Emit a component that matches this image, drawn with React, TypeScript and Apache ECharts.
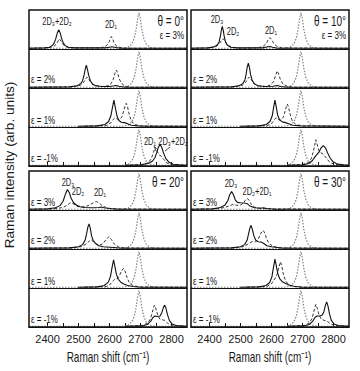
import React, { useEffect, useRef } from "react";
import * as echarts from "echarts";

// ---------- axis / labels ----------
const X_MIN = 2340;
const X_MAX = 2850;
const Y_MAX = 1.07;
const tickValues = [2400, 2450, 2500, 2550, 2600, 2650, 2700, 2750, 2800];
const tickLabels = [2400, 2500, 2600, 2700, 2800];
const strainLabels = ["ε = 3%", "ε = 2%", "ε = 1%", "ε = -1%"];
const thetaLabels = ["θ = 0°", "θ = 10°", "θ = 20°", "θ = 30°"];

// ---------- reference (unstrained) dotted peak ----------
const refDotted = [[2340,.02],[2640,.02],[2660,.05],[2672,.14],[2680,.3],[2686,.55],[2691,.85],[2695,1.0],[2699,.85],[2704,.55],[2710,.3],[2718,.14],[2730,.05],[2750,.02],[2850,.02]];

// ---------- theta = 0 ----------
const th0_e3_solid = [[2340,.02],[2390,.03],[2406,.05],[2416,.1],[2421,.16],[2426,.27],[2431,.43],[2436,.53],[2441,.43],[2446,.27],[2451,.16],[2456,.1],[2466,.05],[2490,.03],[2585,.03],[2600,.05],[2608,.06],[2616,.05],[2635,.02],[2850,.02]];
const th0_e3_dashed = [[2340,.02],[2400,.03],[2420,.07],[2429,.14],[2434,.22],[2438,.28],[2443,.22],[2448,.14],[2457,.07],[2475,.03],[2570,.03],[2585,.06],[2592,.11],[2599,.2],[2603,.3],[2606,.34],[2610,.28],[2614,.18],[2620,.1],[2630,.05],[2650,.02],[2850,.02]];
const th0_e2_solid = [[2340,.02],[2470,.03],[2495,.06],[2507,.12],[2513,.2],[2518,.36],[2521,.5],[2525,.63],[2529,.5],[2533,.34],[2538,.2],[2545,.11],[2555,.06],[2575,.04],[2600,.04],[2615,.06],[2622,.07],[2630,.05],[2650,.02],[2850,.02]];
const th0_e2_dashed = [[2340,.02],[2480,.03],[2505,.07],[2516,.15],[2523,.25],[2528,.3],[2533,.24],[2540,.14],[2552,.07],[2575,.04],[2595,.06],[2605,.12],[2612,.24],[2618,.42],[2622,.49],[2626,.42],[2631,.26],[2638,.13],[2648,.06],[2665,.02],[2850,.02]];
const th0_e1_solid = [[2498,.02],[2560,.03],[2585,.07],[2597,.15],[2604,.3],[2609,.52],[2614,.74],[2619,.52],[2624,.3],[2630,.18],[2638,.13],[2648,.12],[2658,.09],[2670,.05],[2690,.03],[2720,.02],[2850,.02]];
const th0_e1_dashed = [[2520,.02],[2590,.04],[2605,.12],[2612,.21],[2617,.25],[2624,.22],[2632,.2],[2640,.28],[2646,.45],[2650,.58],[2654,.65],[2658,.56],[2663,.36],[2670,.17],[2680,.07],[2700,.03],[2850,.02]];
const th0_em1_solid = [[2650,.02],[2700,.03],[2725,.07],[2738,.13],[2746,.22],[2752,.36],[2757,.5],[2763,.6],[2769,.5],[2775,.34],[2782,.2],[2792,.1],[2805,.05],[2825,.03],[2850,.02]];
const th0_em1_dashed = [[2650,.02],[2710,.04],[2725,.09],[2735,.2],[2741,.36],[2748,.52],[2754,.4],[2760,.3],[2767,.27],[2775,.18],[2785,.08],[2800,.04],[2850,.02]];

// ---------- theta = 10 ----------
const th10_e3_solid = [[2340,.02],[2395,.03],[2415,.06],[2425,.11],[2431,.2],[2435,.36],[2438,.52],[2441,.62],[2444,.52],[2447,.36],[2451,.2],[2457,.11],[2468,.05],[2490,.03],[2570,.03],[2588,.06],[2595,.07],[2603,.05],[2620,.02],[2850,.02]];
const th10_e3_dashed = [[2340,.02],[2400,.03],[2422,.07],[2432,.15],[2439,.24],[2444,.28],[2450,.22],[2457,.12],[2470,.05],[2500,.02],[2555,.03],[2572,.07],[2582,.14],[2589,.25],[2595,.31],[2601,.25],[2608,.14],[2618,.07],[2635,.03],[2850,.02]];
const th10_e2_solid = [[2340,.02],[2470,.03],[2495,.06],[2507,.12],[2514,.22],[2518,.38],[2521,.55],[2525,.68],[2529,.55],[2532,.38],[2537,.22],[2544,.12],[2556,.06],[2580,.04],[2605,.05],[2618,.07],[2630,.04],[2650,.02],[2850,.02]];
const th10_e2_dashed = [[2340,.02],[2480,.03],[2505,.07],[2516,.15],[2523,.25],[2528,.3],[2534,.24],[2542,.13],[2555,.06],[2580,.04],[2596,.08],[2606,.17],[2612,.32],[2618,.47],[2623,.38],[2629,.22],[2637,.11],[2650,.05],[2670,.02],[2850,.02]];
const th10_e1_solid = [[2498,.02],[2560,.03],[2583,.07],[2595,.15],[2602,.3],[2607,.55],[2611,.74],[2615,.55],[2620,.32],[2626,.19],[2635,.14],[2645,.12],[2655,.09],[2668,.05],[2690,.03],[2850,.02]];
const th10_e1_dashed = [[2520,.02],[2588,.04],[2603,.12],[2610,.21],[2614,.25],[2621,.22],[2630,.19],[2638,.27],[2644,.44],[2648,.57],[2651,.63],[2655,.54],[2660,.35],[2667,.17],[2678,.07],[2700,.03],[2850,.02]];
const th10_em1_solid = [[2650,.02],[2700,.03],[2720,.07],[2732,.15],[2740,.25],[2746,.31],[2753,.38],[2760,.5],[2767,.56],[2774,.5],[2781,.36],[2789,.22],[2798,.12],[2810,.06],[2830,.03],[2850,.02]];
const th10_em1_dashed = [[2650,.02],[2700,.04],[2718,.09],[2728,.2],[2735,.4],[2740,.6],[2743,.72],[2747,.6],[2752,.44],[2758,.37],[2766,.33],[2775,.24],[2786,.12],[2800,.05],[2820,.03],[2850,.02]];

// ---------- theta = 20 ----------
const th20_e3_solid = [[2340,.02],[2400,.03],[2425,.06],[2440,.12],[2450,.24],[2457,.42],[2464,.56],[2470,.48],[2476,.32],[2484,.2],[2494,.13],[2505,.09],[2520,.07],[2545,.06],[2565,.07],[2573,.08],[2582,.06],[2600,.04],[2630,.02],[2850,.02]];
const th20_e3_dashed = [[2340,.02],[2420,.03],[2450,.07],[2463,.13],[2472,.19],[2477,.2],[2485,.16],[2495,.1],[2510,.08],[2525,.1],[2538,.15],[2550,.21],[2557,.23],[2565,.2],[2575,.13],[2590,.06],[2610,.03],[2850,.02]];
const th20_e2_solid = [[2340,.02],[2470,.03],[2500,.06],[2513,.12],[2521,.24],[2526,.42],[2530,.6],[2534,.69],[2538,.56],[2542,.36],[2547,.24],[2554,.16],[2565,.09],[2580,.06],[2600,.05],[2615,.04],[2640,.02],[2850,.02]];
const th20_e2_dashed = [[2340,.02],[2480,.03],[2510,.07],[2525,.14],[2535,.22],[2541,.25],[2548,.2],[2556,.13],[2566,.1],[2578,.14],[2588,.25],[2598,.34],[2606,.26],[2615,.14],[2628,.06],[2650,.03],[2850,.02]];
const th20_e1_solid = [[2498,.02],[2560,.03],[2583,.07],[2596,.16],[2603,.32],[2608,.56],[2613,.77],[2617,.6],[2622,.38],[2628,.24],[2636,.16],[2646,.11],[2658,.07],[2675,.04],[2700,.02],[2850,.02]];
const th20_e1_dashed = [[2520,.02],[2590,.04],[2605,.12],[2613,.21],[2618,.25],[2625,.26],[2632,.34],[2638,.46],[2645,.54],[2650,.46],[2656,.3],[2663,.16],[2675,.07],[2695,.03],[2850,.02]];
const th20_em1_solid = [[2650,.02],[2705,.03],[2722,.07],[2733,.16],[2740,.26],[2747,.3],[2755,.29],[2763,.3],[2769,.4],[2774,.54],[2778,.6],[2782,.52],[2787,.34],[2793,.18],[2802,.08],[2815,.04],[2850,.02]];
const th20_em1_dashed = [[2650,.02],[2705,.04],[2722,.1],[2732,.22],[2738,.4],[2742,.54],[2745,.6],[2749,.52],[2755,.34],[2762,.22],[2770,.2],[2778,.18],[2788,.1],[2800,.05],[2820,.03],[2850,.02]];

// ---------- theta = 30 ----------
const th30_e3_solid = [[2340,.02],[2410,.03],[2435,.07],[2450,.14],[2459,.26],[2465,.42],[2471,.51],[2477,.42],[2483,.28],[2490,.21],[2500,.2],[2512,.19],[2522,.17],[2532,.1],[2545,.06],[2565,.05],[2573,.06],[2585,.04],[2610,.02],[2850,.02]];
const th30_e3_dashed = [[2340,.02],[2420,.03],[2450,.07],[2465,.12],[2475,.15],[2487,.13],[2498,.13],[2508,.18],[2515,.26],[2522,.32],[2528,.26],[2535,.15],[2545,.08],[2560,.05],[2590,.03],[2850,.02]];
const th30_e2_solid = [[2340,.02],[2470,.03],[2500,.06],[2513,.12],[2521,.24],[2526,.42],[2530,.57],[2534,.65],[2538,.54],[2543,.36],[2549,.24],[2557,.2],[2566,.19],[2575,.15],[2585,.09],[2600,.06],[2620,.04],[2640,.02],[2850,.02]];
const th30_e2_dashed = [[2340,.02],[2480,.03],[2510,.07],[2525,.14],[2537,.2],[2548,.2],[2556,.26],[2563,.38],[2568,.47],[2573,.51],[2578,.44],[2584,.28],[2592,.15],[2605,.07],[2625,.03],[2850,.02]];
const th30_e1_solid = [[2498,.02],[2560,.03],[2582,.07],[2594,.15],[2601,.3],[2606,.56],[2611,.79],[2615,.62],[2620,.4],[2626,.26],[2634,.18],[2644,.13],[2656,.08],[2672,.05],[2700,.02],[2850,.02]];
const th30_e1_dashed = [[2520,.02],[2585,.04],[2600,.12],[2608,.22],[2614,.3],[2619,.4],[2624,.58],[2629,.72],[2633,.6],[2638,.38],[2645,.2],[2655,.09],[2670,.04],[2700,.02],[2850,.02]];
const th30_em1_solid = [[2650,.02],[2705,.03],[2722,.07],[2733,.16],[2740,.26],[2747,.3],[2755,.3],[2763,.32],[2769,.42],[2774,.6],[2778,.69],[2782,.58],[2787,.36],[2793,.18],[2802,.08],[2815,.04],[2850,.02]];
const th30_em1_dashed = [[2650,.02],[2705,.04],[2720,.1],[2730,.22],[2736,.4],[2740,.55],[2743,.62],[2747,.53],[2753,.34],[2760,.22],[2770,.18],[2778,.17],[2788,.1],[2800,.05],[2820,.03],[2850,.02]];

const panelCurves = [
  [[th0_e3_solid, th0_e3_dashed], [th0_e2_solid, th0_e2_dashed], [th0_e1_solid, th0_e1_dashed], [th0_em1_solid, th0_em1_dashed]],
  [[th10_e3_solid, th10_e3_dashed], [th10_e2_solid, th10_e2_dashed], [th10_e1_solid, th10_e1_dashed], [th10_em1_solid, th10_em1_dashed]],
  [[th20_e3_solid, th20_e3_dashed], [th20_e2_solid, th20_e2_dashed], [th20_e1_solid, th20_e1_dashed], [th20_em1_solid, th20_em1_dashed]],
  [[th30_e3_solid, th30_e3_dashed], [th30_e2_solid, th30_e2_dashed], [th30_e1_solid, th30_e1_dashed], [th30_em1_solid, th30_em1_dashed]],
];

// peak annotations
const peakNotes = [
  { x: 57, y: 21.5, t: "2D₃+2D₂" }, { x: 111, y: 25, t: "2D₁" },
  { x: 150, y: 142, t: "2D₁" }, { x: 173, y: 142, t: "2D₃+2D₂" },
  { x: 217, y: 20, t: "2D₃" }, { x: 233, y: 32, t: "2D₂" }, { x: 271, y: 31, t: "2D₁" },
  { x: 68, y: 183, t: "2D₃" }, { x: 78, y: 192, t: "2D₂" }, { x: 100, y: 193, t: "2D₁" },
  { x: 231, y: 184, t: "2D₃" }, { x: 257, y: 192, t: "2D₂+2D₁" },
];

// ---------- layout ----------
const PANELS = [
  { left: 29, top: 10 },
  { left: 191, top: 10 },
  { left: 29, top: 171 },
  { left: 191, top: 171 },
];
const PW = 158;
const SH = 39;
const SY = 1.4;
const FONT = "'Liberation Sans', Arial, Helvetica, sans-serif";
const LBL_OFF = [8, 9, 7, 8];

function txt(x: number, y: number, text: string, size: number, align = "center", extra: any = {}) {
  return {
    type: "text",
    x, y,
    scaleY: SY,
    z: 30,
    silent: true,
    style: {
      text, fontSize: size, fontFamily: FONT, fill: "#1a1a1a",
      align, textAlign: align, verticalAlign: "middle", textVerticalAlign: "middle",
    },
    ...extra,
  };
}

function buildOption() {
  const grid: any[] = [];
  const xAxis: any[] = [];
  const yAxis: any[] = [];
  const series: any[] = [];
  const graphic: any[] = [];

  PANELS.forEach((p, pi) => {
    for (let s = 0; s < 4; s++) {
      const idx = pi * 4 + s;
      const bottom = s === 3;
      grid.push({ left: p.left, top: p.top + s * SH, width: PW, height: SH, containLabel: false });
      xAxis.push({
        type: "value", gridIndex: idx, min: X_MIN, max: X_MAX,
        axisLine: { show: true, lineStyle: { color: "#111", width: 1 } },
        axisTick: { show: bottom, inside: true, length: 4, customValues: tickValues, lineStyle: { color: "#111", width: 1 } },
        axisLabel: {
          show: bottom && pi >= 2, customValues: tickLabels, margin: 6,
          formatter: (v: number) => String(v),
          fontSize: 11, color: "#1a1a1a", fontFamily: "'Liberation Sans Narrow', 'Liberation Sans', Arial, sans-serif",
        },
        splitLine: { show: false },
      });
      yAxis.push({ type: "value", gridIndex: idx, min: 0, max: Y_MAX, show: false });
      const [solid, dashed] = panelCurves[pi][s];
      series.push({
        type: "line", xAxisIndex: idx, yAxisIndex: idx, data: refDotted, symbol: "none", silent: true, z: 2,
        lineStyle: { color: "#808080", width: 1.2, type: [1.5, 1.5] },
      });
      series.push({
        type: "line", xAxisIndex: idx, yAxisIndex: idx, data: dashed, symbol: "none", silent: true, z: 3,
        lineStyle: { color: "#333", width: 1, type: [3, 2] },
      });
      series.push({
        type: "line", xAxisIndex: idx, yAxisIndex: idx, data: solid, symbol: "none", silent: true, z: 4,
        lineStyle: { color: "#111", width: 1.1 },
      });

      const rightTop = s === 0 && pi < 2;
      if (rightTop) {
        graphic.push(txt(p.left + PW - 3, p.top + 25, strainLabels[s], 8, "right"));
      } else {
        graphic.push(txt(p.left + 2, p.top + (s + 1) * SH - LBL_OFF[s], strainLabels[s], 8, "left"));
      }
    }
    graphic.push({
      type: "rect", z: 40, silent: true,
      shape: { x: p.left, y: p.top, width: PW, height: SH * 4 },
      style: { fill: "none", stroke: "#111", lineWidth: 1.5 },
    });
    graphic.push(txt(p.left + PW - 3, p.top + 11, thetaLabels[pi], 10, "right"));
  });

  peakNotes.forEach((n) => graphic.push(txt(n.x, n.y, n.t, 7.5, "center")));
  graphic.push({ type: "line", z: 30, silent: true, shape: { x1: 154, y1: 146, x2: 156, y2: 151 }, style: { stroke: "#222", lineWidth: 0.8 } });
  graphic.push({ type: "line", z: 30, silent: true, shape: { x1: 170, y1: 147, x2: 165, y2: 151 }, style: { stroke: "#222", lineWidth: 0.8 } });

  graphic.push(txt(108, 357, "Raman shift (cm⁻¹)", 10, "center"));
  graphic.push(txt(270, 357, "Raman shift (cm⁻¹)", 10, "center"));
  graphic.push({
    type: "text", x: 10, y: 165, rotation: Math.PI / 2, scaleX: 1.05, z: 30, silent: true,
    style: {
      text: "Raman intensity (arb. units)", fontSize: 13, fontFamily: FONT, fill: "#1a1a1a",
      align: "center", textAlign: "center", verticalAlign: "middle", textVerticalAlign: "middle",
    },
  });

  return { animation: false, backgroundColor: "#fff", grid, xAxis, yAxis, series, graphic };
}

export default function App() {
  const ref = useRef<HTMLDivElement>(null);
  useEffect(() => {
    if (!ref.current) return;
    const chart = echarts.init(ref.current, undefined, { renderer: "svg" });
    chart.setOption(buildOption() as any);
    return () => chart.dispose();
  }, []);
  return <div ref={ref} style={{ position: "absolute", left: 0, top: 0, width: 360, height: 371 }} />;
}
